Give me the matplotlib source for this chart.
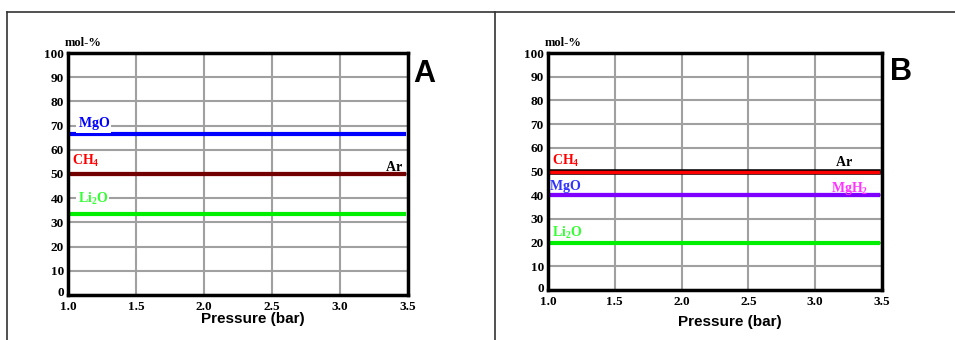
"""
Equilibrium composition vs pressure, panels A and B
"""

import matplotlib
matplotlib.use("Agg")
import matplotlib.pyplot as plt
import matplotlib.transforms as mtransforms
from matplotlib.lines import Line2D

plt.rcParams["mathtext.fontset"] = "custom"
plt.rcParams["mathtext.bf"] = "Liberation Serif:bold"
plt.rcParams["mathtext.rm"] = "Liberation Serif:bold"

# data
pressure = [1.0, 3.47]
x_ticks = [1.0, 1.5, 2.0, 2.5, 3.0, 3.5]
y_ticks = [0, 10, 20, 30, 40, 50, 60, 70, 80, 90, 100]

mgo_a = [66.7, 66.7]
ch4_a = [50, 50]
ar_a = [50, 50]
li2o_a = [33.3, 33.3]

ch4_b = [50, 50]
ar_b = [50, 50]
mgo_b = [40, 40]
mgh2_b = [40, 40]
li2o_b = [20, 20]

serif = "Liberation Serif"
sans = "Liberation Sans"


def setup_axes(ax, letter, letter_pos, xlabel_pos):
    ax.set_xlim(1.0, 3.5)
    ax.set_ylim(0, 100)
    ax.set_xticks(x_ticks)
    ax.set_yticks(y_ticks)
    ax.set_xticklabels([f"{t:.1f}" for t in x_ticks], family=serif,
                       fontweight="bold", fontsize=9.5)
    ax.set_yticklabels([str(t) for t in y_ticks], family=serif,
                       fontweight="bold", fontsize=9.5)
    ax.tick_params(axis="y", length=0, pad=3)
    ax.tick_params(axis="x", length=0, pad=4)
    # lift the "0" label a little so it sits above the 1.0 label
    zero = ax.get_yticklabels()[0]
    zero.set_transform(zero.get_transform() + mtransforms.ScaledTranslation(
        0, 3 / 100, ax.figure.dpi_scale_trans))
    ax.grid(True, color="#a0a0a0", linewidth=1.5)
    ax.set_axisbelow(True)
    for s in ax.spines.values():
        s.set_linewidth(2.5)
    ax.set_xlabel("Pressure (bar)", family=sans, fontweight="bold",
                  fontsize=11, va="center")
    ax.xaxis.set_label_coords(*xlabel_pos)
    ax.text(-0.01, 1.015, "mol-%", transform=ax.transAxes, family=serif,
            fontweight="bold", fontsize=9, ha="left", va="bottom")
    ax.text(letter_pos[0], letter_pos[1], letter, transform=ax.transAxes,
            family=sans, fontweight="bold", fontsize=22, ha="left",
            va="center")


fig = plt.figure(figsize=(9.55, 3.4), dpi=100)

# outer frame lines
fig.add_artist(Line2D([7 / 955, 1.0], [1 - 12 / 340, 1 - 12 / 340],
                      color="#333333", linewidth=1.2))
fig.add_artist(Line2D([7 / 955, 7 / 955], [0, 1 - 12 / 340],
                      color="#333333", linewidth=1.2))
fig.add_artist(Line2D([495 / 955, 495 / 955], [0, 1 - 12 / 340],
                      color="#333333", linewidth=1.2))

# panel A
ax_a = fig.add_axes([68 / 955, 45 / 340, 340 / 955, 242 / 340])
setup_axes(ax_a, "A", (1.015, 0.913), (0.544, -0.099))
ax_a.plot(pressure, mgo_a, color="#0000ff", linewidth=3)
ax_a.plot(pressure, ch4_a, color="#ff0000", linewidth=3)
ax_a.plot(pressure, ar_a, color="black", linewidth=3, alpha=0.55)
ax_a.plot(pressure, li2o_a, color="#00ee00", linewidth=3)

bbox = dict(facecolor="white", edgecolor="none", pad=1)
ax_a.text(1.07, 71, r"$\mathbf{MgO}$", color="#0000ff", fontsize=10,
          va="center", bbox=bbox)
ax_a.text(1.03, 55.5, r"$\mathbf{CH_4}$", color="#ff0000", fontsize=10,
          va="center")
ax_a.text(3.33, 53, r"$\mathbf{Ar}$", color="black", fontsize=10,
          va="center")
ax_a.text(1.07, 39.5, r"$\mathbf{Li_2O}$", color="#33ff33", fontsize=10,
          va="center", bbox=bbox)

# panel B
ax_b = fig.add_axes([548 / 955, 50 / 340, 334 / 955, 237 / 340])
setup_axes(ax_b, "B", (1.024, 0.92), (0.543, -0.135))
ax_b.plot(pressure, ar_b, color="black", linewidth=4)
ax_b.plot(pressure, ch4_b, color="#ff0000", linewidth=2.5)
ax_b.plot(pressure, mgo_b, color="#0000ff", linewidth=3)
ax_b.plot(pressure, mgh2_b, color="#ff00ff", linewidth=3, alpha=0.5)
ax_b.plot(pressure, li2o_b, color="#00ee00", linewidth=3)

ax_b.text(1.03, 54.5, r"$\mathbf{CH_4}$", color="#ff0000", fontsize=10,
          va="center")
ax_b.text(3.15, 54, r"$\mathbf{Ar}$", color="black", fontsize=10,
          va="center")
ax_b.text(1.01, 43.5, r"$\mathbf{MgO}$", color="#3333ff", fontsize=10,
          va="center")
ax_b.text(3.12, 43, r"$\mathbf{MgH_2}$", color="#ff33ff", fontsize=10,
          va="center")
ax_b.text(1.03, 24, r"$\mathbf{Li_2O}$", color="#33ff33", fontsize=10,
          va="center")

plt.savefig("out.png", dpi=100)
